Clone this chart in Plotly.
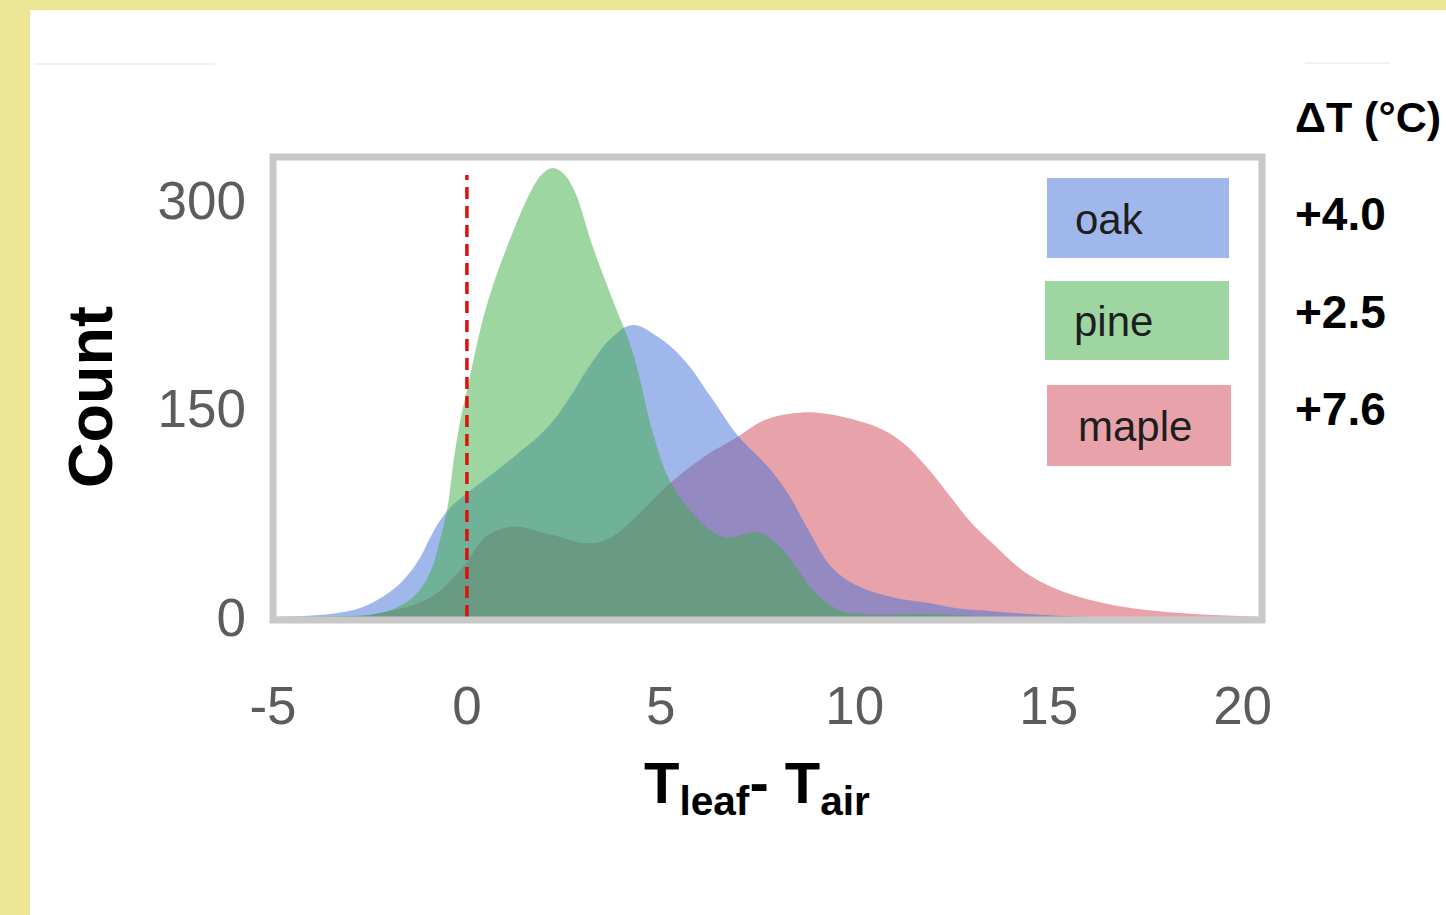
import plotly.graph_objects as go

# ---------------- data ----------------
oak_x = [-5, -4, -3.3, -2.7, -2.2, -1.8, -1.5, -1.2, -0.95, -0.7, -0.45, -0.18, 0.33, 1.2, 2.1, 2.7, 3.1, 3.7, 4.25, 4.9, 5.6, 6.3, 7.0, 7.7, 8.25, 8.8, 9.4, 10.1, 11.0, 11.9, 12.7, 13.6, 14.8, 16.0, 20.5]
oak_y = [0, 1, 3, 7, 14, 22, 31, 43, 57, 69, 78, 85, 96, 115, 137, 160, 178, 200, 210, 202, 185, 158, 130, 110, 90, 63, 36, 22, 14, 10, 6, 4, 1.5, 0, 0]

pine_x = [-5, -3.5, -2.2, -1.4, -0.95, -0.7, -0.5, -0.35, -0.18, 0, 0.5, 1.1, 1.7, 1.95, 2.2, 2.45, 2.75, 3.25, 3.76, 4.28, 4.8, 5.23, 5.75, 6.26, 6.7, 7.45, 7.9, 8.4, 9.0, 9.6, 10.3, 12.0, 14.0, 20.5]
pine_y = [0, 0.5, 3, 14, 32, 55, 79, 111, 140, 163, 223, 271, 309, 319, 323, 320, 308, 266, 228, 190, 132, 98, 77, 63, 57, 61, 55, 39, 17, 5, 2, 2, 0, 0]

maple_x = [-5, -3, -2.2, -0.95, -0.1, 0.5, 1.2, 2.06, 3.17, 3.76, 4.46, 5.15, 6.0, 7.0, 7.7, 8.6, 9.3, 10.1, 10.7, 11.3, 11.85, 12.45, 13.0, 13.55, 14.4, 15.3, 16.1, 17.0, 18.3, 19.6, 20.5]
maple_y = [0, 0.5, 3, 14, 36, 58, 65, 60, 53, 58, 75, 94, 113, 130, 142, 147, 146, 141, 135, 124, 108, 87, 68, 53, 32, 19, 12, 7, 3, 1, 0]

species = ["oak", "pine", "maple"]
delta_t = ["+4.0", "+2.5", "+7.6"]
x_ticks = [-5, 0, 5, 10, 15, 20]
x_tick_text = ["-5", "0", "5", "10", "15", "20"]
y_ticks = [0, 150, 300]

# ---------------- styling ----------------
W, H = 1446, 915
L, R, T, B = 273, 1262, 157, 620  # plot area in pixels

fill_cols = {
    "oak": "rgba(65,111,217,0.5)",
    "pine": "rgba(61,173,69,0.5)",
    "maple": "rgba(209,71,85,0.5)",
}
box_cols = {"oak": "#A0B7EC", "pine": "#9ED6A2", "maple": "#E8A3AA"}
FONT = "Liberation Sans, Arial"


def px(xp):
    return (xp - L) / (R - L)


def py(yp):
    return (B - yp) / (B - T)


fig = go.Figure()
series = {"maple": (maple_x, maple_y), "oak": (oak_x, oak_y), "pine": (pine_x, pine_y)}
for name in ["maple", "oak", "pine"]:
    xs, ys = series[name]
    fig.add_trace(go.Scatter(
        x=xs, y=ys, mode="lines", name=name,
        line=dict(shape="spline", smoothing=1.1, width=0, color=fill_cols[name]),
        fill="tozeroy", fillcolor=fill_cols[name], showlegend=False,
    ))

shapes = [
    # white panel
    dict(type="rect", xref="paper", yref="paper", x0=px(30), x1=px(W + 5), y0=py(H + 5), y1=py(10),
         fillcolor="white", line=dict(width=0), layer="below"),
    # faint lines at top
    dict(type="line", xref="paper", yref="paper", x0=px(35), x1=px(215), y0=py(64), y1=py(64),
         line=dict(color="#f1f1f1", width=2), layer="below"),
    dict(type="line", xref="paper", yref="paper", x0=px(1305), x1=px(1390), y0=py(63), y1=py(63),
         line=dict(color="#f1f1f1", width=2), layer="below"),
    # red dashed zero line
    dict(type="line", xref="x", yref="y", x0=0, x1=0, y0=0, y1=318,
         line=dict(color="#e01010", width=3.5, dash="12px,7px"), layer="above"),
    # plot frame
    dict(type="rect", xref="paper", yref="paper", x0=0, x1=1, y0=0, y1=1,
         line=dict(color="#c8c8c8", width=7), fillcolor="rgba(0,0,0,0)", layer="above"),
]

# legend boxes
leg_boxes = [(1047, 1229, 178, 258), (1045, 1229, 281, 360), (1047, 1231, 385, 466)]
leg_text_x = [1073, 1072, 1076]
annotations = []
for name, (x0, x1, y0, y1), tx in zip(species, leg_boxes, leg_text_x):
    shapes.append(dict(type="rect", xref="paper", yref="paper", x0=px(x0), x1=px(x1), y0=py(y1), y1=py(y0),
                       fillcolor=box_cols[name], line=dict(width=0), layer="above"))
    annotations.append(dict(xref="paper", yref="paper", x=px(tx), y=py((y0 + y1) / 2 + 1),
                            xanchor="left", yanchor="middle", showarrow=False, text=name,
                            font=dict(family=FONT, size=42, color="#1e1e1e")))

# delta T column
annotations.append(dict(xref="paper", yref="paper", x=px(1293), y=py(117), xanchor="left", yanchor="middle",
                        showarrow=False, text="<b>ΔT (°C)</b>",
                        font=dict(family=FONT, size=43, color="#000")))
for val, yc in zip(delta_t, [214, 312, 409]):
    annotations.append(dict(xref="paper", yref="paper", x=px(1293), y=py(yc), xanchor="left", yanchor="middle",
                            showarrow=False, text=f"<b>{val}</b>",
                            font=dict(family=FONT, size=46, color="#000")))

# axis titles
annotations.append(dict(xref="paper", yref="paper", x=px(90), y=py(397), xanchor="center", yanchor="middle",
                        textangle=-90, showarrow=False, text="<b>Count</b>",
                        font=dict(family=FONT, size=63, color="#000")))
annotations.append(dict(xref="paper", yref="paper", x=px(757), y=py(787), xanchor="center", yanchor="middle",
                        showarrow=False, text="<b>T<sub>leaf</sub>- T<sub>air</sub></b>",
                        font=dict(family=FONT, size=58, color="#000")))

fig.update_layout(
    width=W, height=H,
    margin=dict(l=L, r=W - R, t=T, b=H - B),
    paper_bgcolor="#ECE596",
    plot_bgcolor="white",
    shapes=shapes,
    annotations=annotations,
    xaxis=dict(range=[-5, 20.5], tickvals=x_ticks, ticktext=x_tick_text, ticks="", showgrid=False,
               zeroline=False, showline=False, ticklabelstandoff=50,
               tickfont=dict(family=FONT, size=53, color="#5c5c5c")),
    yaxis=dict(range=[-2.2, 331], tickvals=y_ticks, ticks="", showgrid=False, zeroline=False,
               showline=False, ticklabelstandoff=26,
               tickfont=dict(family=FONT, size=53, color="#5c5c5c")),
)

fig.write_html("out.html")
